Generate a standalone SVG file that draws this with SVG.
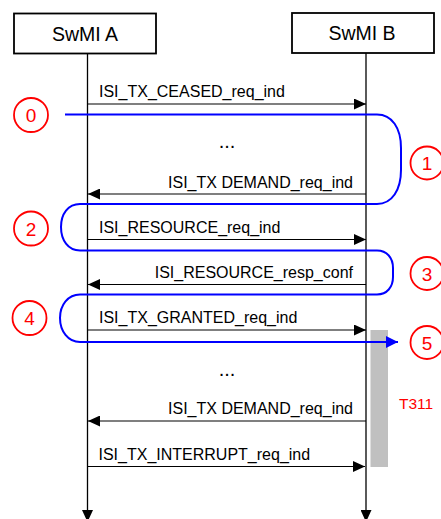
<svg xmlns="http://www.w3.org/2000/svg" width="441" height="519" viewBox="0 0 441 519">
  <style>
    .box { fill: #ffffff; stroke: #000000; stroke-width: 1.8; }
    .title { font-family: "Liberation Sans", Arial, sans-serif; font-size: 19.5px; fill: #000000; text-anchor: middle; }
    .life { stroke: #000000; stroke-width: 1.3; fill: none; }
    .msg { stroke: #000000; stroke-width: 1.2; fill: none; marker-end: url(#arrow); }
    .lbl { font-family: "Liberation Sans", Arial, sans-serif; font-size: 16px; fill: #000000; }
    .end { text-anchor: end; }
    .dots { font-family: "Liberation Sans", Arial, sans-serif; font-size: 20px; fill: #000000; text-anchor: middle; }
    .flow { stroke: #0000ff; stroke-width: 2; fill: none; }
    .step circle { fill: #ffffff; stroke: #ff0000; stroke-width: 1.8; }
    .step text { font-family: "Liberation Sans", Arial, sans-serif; font-size: 19px; fill: #ff0000; text-anchor: middle; }
    .timer { font-family: "Liberation Sans", Arial, sans-serif; font-size: 15.5px; fill: #ff0000; }
  </style>
  <defs>
    <marker id="arrow" markerUnits="userSpaceOnUse" markerWidth="13" markerHeight="11" refX="12" refY="5.5" orient="auto">
      <path d="M0,0 L12,5.5 L0,11 Z" fill="#000000"/>
    </marker>
    <marker id="arrowBlue" markerUnits="userSpaceOnUse" markerWidth="13" markerHeight="12" refX="12" refY="6" orient="auto">
      <path d="M0,0 L12,6 L0,12 Z" fill="#0000ff"/>
    </marker>
  </defs>

  <!-- timer bar -->
  <rect id="t311-bar" x="370.5" y="330" width="17.5" height="137" fill="#c0c0c0"/>
  <text class="timer" x="399" y="408.5">T311</text>

  <!-- entities -->
  <g id="swmi-a">
    <rect class="box" x="14" y="13.5" width="142" height="40"/>
    <text class="title" x="85" y="40.5">SwMI A</text>
  </g>
  <g id="swmi-b">
    <rect class="box" x="292" y="13" width="142" height="40"/>
    <text class="title" x="362" y="39.5">SwMI B</text>
  </g>

  <g id="connectors">
    <!-- lifelines -->
    <line class="life" x1="87.5" y1="53.5" x2="87.5" y2="522" marker-end="url(#arrow)"/>
    <line class="life" x1="366" y1="53" x2="366" y2="522" marker-end="url(#arrow)"/>

    <!-- messages -->
    <line class="msg" x1="88" y1="104" x2="366" y2="104"/>
    <line class="msg" x1="366" y1="194" x2="88" y2="194"/>
    <line class="msg" x1="88" y1="239.5" x2="366" y2="239.5"/>
    <line class="msg" x1="366" y1="284.5" x2="88" y2="284.5"/>
    <line class="msg" x1="88" y1="330" x2="366" y2="330"/>
    <line class="msg" x1="366" y1="421" x2="88" y2="421"/>
    <line class="msg" x1="88" y1="466.5" x2="365" y2="466.5"/>

    <!-- procedure flow -->
    <path class="flow" marker-end="url(#arrowBlue)" d="M 65 114.5 H 377 C 392 114.5 401 128 401 148 V 170 C 401 190 392 204 377 204 H 80 C 68 204 61 214 61 227 C 61 240 68 250.5 80 250.5 H 377 C 387 250.5 393 258 393 268 V 277 C 393 287 387 294.5 377 294.5 H 80 C 68 294.5 60 305 60 318 C 60 331 68 342 80 342 H 398"/>
  </g>

  <g id="labels">
    <text class="lbl" x="99" y="97">ISI_TX_CEASED_req_ind</text>
    <text class="dots" x="227" y="148">...</text>
    <text class="lbl end" x="353" y="188">ISI_TX DEMAND_req_ind</text>
    <text class="lbl" x="99" y="233">ISI_RESOURCE_req_ind</text>
    <text class="lbl end" x="353" y="278">ISI_RESOURCE_resp_conf</text>
    <text class="lbl" x="99" y="323">ISI_TX_GRANTED_req_ind</text>
    <text class="dots" x="227" y="376">...</text>
    <text class="lbl end" x="353" y="414">ISI_TX DEMAND_req_ind</text>
    <text class="lbl" x="98.5" y="459.5">ISI_TX_INTERRUPT_req_ind</text>
  </g>

  <!-- numbered steps -->
  <g id="step-0" class="step"><circle cx="31" cy="115" r="17"/><text x="31" y="122">0</text></g>
  <g id="step-1" class="step"><circle cx="427" cy="163" r="16.5"/><text x="427" y="170">1</text></g>
  <g id="step-2" class="step"><circle cx="31" cy="228.5" r="17"/><text x="31" y="235.5">2</text></g>
  <g id="step-3" class="step"><circle cx="427" cy="273.5" r="16.5"/><text x="427" y="280.5">3</text></g>
  <g id="step-4" class="step"><circle cx="29.5" cy="318" r="17"/><text x="29.5" y="325">4</text></g>
  <g id="step-5" class="step"><circle cx="427" cy="342.5" r="16.5"/><text x="427" y="349.5">5</text></g>
</svg>
